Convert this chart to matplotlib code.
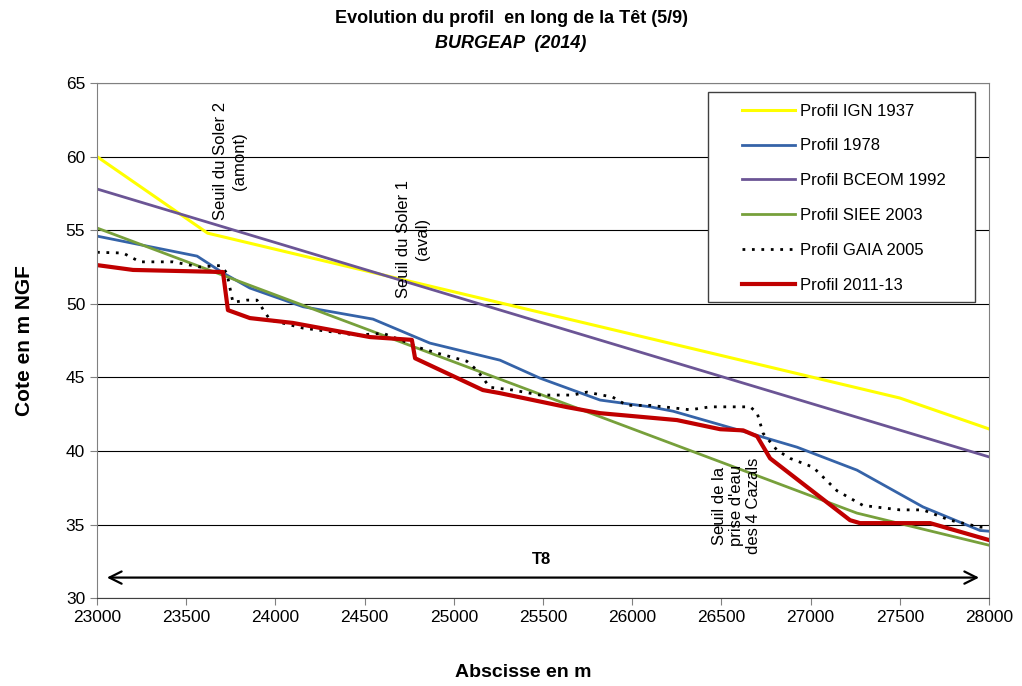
import numpy as np
import matplotlib
matplotlib.use('Agg')
import matplotlib.pyplot as plt
from matplotlib.patches import Rectangle

plt.rcParams['font.family'] = ['Liberation Sans', 'DejaVu Sans']

# profils en long (abscisse en m, cote en m NGF)
ign_x = [23000, 23620, 27500, 28000]
ign_y = [60.0, 54.8, 43.6, 41.5]

p78_x = [23000, 23561, 23706, 23857, 24155, 24547, 24866, 25259, 25483, 25820,
         26101, 26230, 26661, 26924, 27260, 27630, 27950, 28000]
p78_y = [54.6, 53.24, 52.1, 51.07, 49.8, 48.96, 47.33, 46.17, 44.95, 43.46,
         43.0, 42.7, 41.2, 40.26, 38.7, 36.2, 34.6, 34.55]

bceom_x = [23000, 28000]
bceom_y = [57.8, 39.6]

siee_x = [23000, 27260, 28000]
siee_y = [55.15, 35.78, 33.6]

gaia_x = [23000, 23146, 23241, 23426, 23577, 23690, 23728, 23762, 23841, 23897,
          23970, 24155, 24457, 24603, 24754, 24810, 24922, 25073, 25129, 25202,
          25331, 25483, 25667, 25746, 25891, 25970, 26101, 26325, 26437, 26661,
          26700, 26734, 26812, 26885, 27014, 27148, 27294, 27501, 27630, 27781,
          27950, 28000]
gaia_y = [53.5, 53.45, 52.85, 52.85, 52.5, 52.6, 52.1, 50.1, 50.25, 50.25,
          48.9, 48.35, 47.87, 48.0, 47.3, 47.0, 46.6, 46.1, 45.5, 44.33,
          44.14, 43.8, 43.8, 44.0, 43.66, 43.1, 43.1, 42.8, 43.0, 43.0,
          42.6, 41.2, 40.05, 39.5, 38.9, 37.3, 36.3, 36.0, 36.0, 35.3,
          34.83, 34.8]

p2011_x = [23000, 23202, 23706, 23734, 23857, 24098, 24530, 24765, 24783, 25163,
           25259, 25634, 25820, 26251, 26493, 26622, 26700, 26773, 27221, 27277,
           27670, 28000]
p2011_y = [52.63, 52.3, 52.16, 49.57, 49.03, 48.7, 47.74, 47.55, 46.3, 44.14,
           43.93, 42.98, 42.57, 42.1, 41.48, 41.4, 41.0, 39.5, 35.3, 35.1,
           35.1, 33.95]

fig = plt.figure(figsize=(10.22, 6.86), dpi=100)
ax = fig.add_axes([0.0949, 0.128, 0.8728, 0.751])

ax.plot(ign_x, ign_y, color='#FFFF00', lw=2.2, label='Profil IGN 1937')
ax.plot(p78_x, p78_y, color='#3563A8', lw=2.0, label='Profil 1978')
ax.plot(bceom_x, bceom_y, color='#6B5595', lw=2.0, label='Profil BCEOM 1992')
ax.plot(siee_x, siee_y, color='#77A03B', lw=2.0, label='Profil SIEE 2003')
ax.plot(gaia_x, gaia_y, color='black', lw=2.0, ls=(0, (1, 2.4)), label='Profil GAIA 2005')
ax.plot(p2011_x, p2011_y, color='#C00000', lw=3.0, label='Profil 2011-13')

ax.set_xlim(23000, 28000)
ax.set_ylim(30, 65)
ax.set_xticks(np.arange(23000, 28001, 500))
ax.set_yticks(np.arange(30, 66, 5))
ax.yaxis.grid(True, color='black', lw=0.8)
ax.set_axisbelow(True)
ax.tick_params(labelsize=12.5, direction='out', length=5, color='#808080')
for s in ['top', 'right', 'left']:
    ax.spines[s].set_color('#808080')
ax.spines['bottom'].set_color('#404040')

ax.set_xlabel('Abscisse en m', fontsize=14, fontweight='bold')
ax.xaxis.set_label_coords(0.478, -0.128)
ax.set_ylabel('Cote en m NGF', fontsize=15, fontweight='bold', labelpad=23)

fig.text(0.5, 0.973, 'Evolution du profil  en long de la Têt (5/9)', ha='center', va='center',
         fontsize=13, fontweight='bold')
fig.text(0.5, 0.937, 'BURGEAP  (2014)', ha='center', va='center',
         fontsize=13, fontweight='bold', style='italic')

# seuils
ax.text(23745, 55.7, 'Seuil du Soler 2\n(amont)', rotation=90, ha='center', va='bottom',
        fontsize=12, multialignment='center', linespacing=1.3)
ax.text(24770, 50.4, 'Seuil du Soler 1\n(aval)', rotation=90, ha='center', va='bottom',
        fontsize=12, multialignment='center', linespacing=1.3)
ax.text(26585, 33.0, "Seuil de la\nprise d'eau\ndes 4 Cazals", rotation=90, ha='center',
        va='bottom', fontsize=12, multialignment='center', linespacing=1.15)

# tronçon T8
ax.annotate('', xy=(27960, 31.4), xytext=(23040, 31.4),
            arrowprops=dict(arrowstyle='<->', color='black', lw=1.6, mutation_scale=22))
ax.text(25490, 32.6, 'T8', ha='center', va='center', fontsize=12, fontweight='bold')

# légende
ax.add_patch(Rectangle((0.685, 0.575), 0.299, 0.4075, transform=ax.transAxes,
                       facecolor='white', edgecolor='#404040', lw=1.0, zorder=4))
leg = ax.legend(loc='upper left', bbox_to_anchor=(0.723, 0.96), fontsize=12,
                frameon=False, borderpad=0, borderaxespad=0,
                labelspacing=1.19, handlelength=3.2, handletextpad=0.3)
leg.set_zorder(5)

fig.savefig('out.png', dpi=100)
